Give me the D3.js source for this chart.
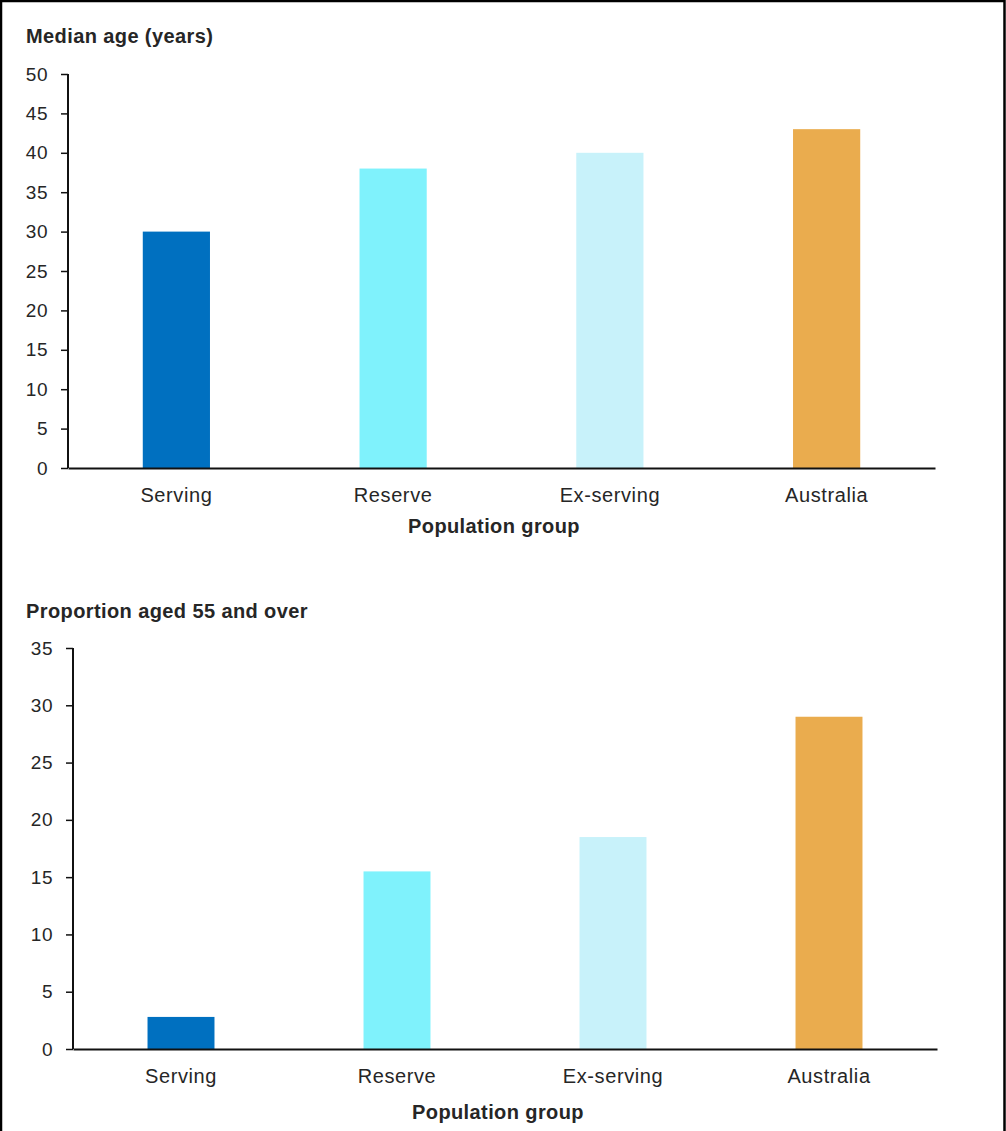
<!DOCTYPE html>
<html>
<head>
<meta charset="utf-8">
<script src="https://cdn.jsdelivr.net/npm/d3@7"></script>
<style>
  html, body { margin: 0; padding: 0; background: #fff; }
  svg { display: block; }
  text { font-family: "Liberation Sans", Arial, sans-serif; fill: #262626; }
</style>
</head>
<body>
<svg id="chart" width="1006" height="1131"></svg>
<script>
// Population groups shown on both panels
const categories = ["Serving", "Reserve", "Ex-serving", "Australia"];
const barColors = ["#0070C0", "#7FF2FC", "#C8F2FA", "#EAAC4E"];

// Panel 1: median age (years)
const medianAge = [30, 38, 40, 43];
const medianAgeTicks = [0, 5, 10, 15, 20, 25, 30, 35, 40, 45, 50];

// Panel 2: proportion aged 55 and over (%)
const aged55Plus = [2.8, 15.5, 18.5, 29.0];
const aged55Ticks = [0, 5, 10, 15, 20, 25, 30, 35];

const panels = [
  { title: "Median age (years)", values: medianAge, ticks: medianAgeTicks,
    x0: 68, x1: 935, yTop: 74, yBase: 468, titleY: 43, xTitleY: 533, xTitleX: 494 },
  { title: "Proportion aged 55 and over", values: aged55Plus, ticks: aged55Ticks,
    x0: 73, x1: 937, yTop: 648, yBase: 1049, titleY: 618, xTitleY: 1119, xTitleX: 498 }
];

const svg = d3.select("#chart");

// frame around the figure
svg.append("path")
  .attr("d", "M1,1131 V1 H1004.5 V1131")
  .attr("fill", "none")
  .attr("stroke", "#000")
  .attr("stroke-width", 2.5);

panels.forEach(p => {
  const g = svg.append("g");

  const x = d3.scaleBand()
    .domain(categories)
    .range([p.x0, p.x1])
    .paddingInner(0.69)
    .paddingOuter(0.345);

  const y = d3.scaleLinear()
    .domain([0, d3.max(p.ticks)])
    .range([p.yBase, p.yTop]);

  // bars
  g.selectAll("rect.bar")
    .data(categories.map((c, i) => ({ c, v: p.values[i], color: barColors[i] })))
    .join("rect")
    .attr("class", "bar")
    .attr("x", d => x(d.c))
    .attr("width", x.bandwidth())
    .attr("y", d => y(d.v))
    .attr("height", d => y(0) - y(d.v))
    .attr("fill", d => d.color);

  // y axis
  const yAxis = g.append("g")
    .attr("transform", `translate(${p.x0},0)`)
    .call(d3.axisLeft(y).tickValues(p.ticks).tickSize(7).tickPadding(13).tickSizeOuter(0));
  yAxis.select(".domain").attr("stroke", "#111").attr("stroke-width", 2)
    .attr("d", `M0,${p.yTop}V${p.yBase}`);
  yAxis.selectAll(".tick line").attr("stroke", "#111").attr("stroke-width", 1.5);
  yAxis.selectAll(".tick text")
    .attr("font-size", 19)
    .attr("letter-spacing", 0.5)
    .attr("font-family", "'Liberation Sans', Arial, sans-serif")
    .attr("fill", "#262626");

  // x axis
  const xAxis = g.append("g")
    .attr("transform", `translate(0,${p.yBase})`)
    .call(d3.axisBottom(x).tickSize(0).tickSizeOuter(0));
  xAxis.select(".domain").attr("stroke", "#111").attr("stroke-width", 2);
  xAxis.selectAll(".tick text")
    .attr("dy", null)
    .attr("y", 33.5)
    .attr("font-size", 20)
    .attr("letter-spacing", 0.6)
    .attr("font-family", "'Liberation Sans', Arial, sans-serif")
    .attr("fill", "#262626");

  // panel title
  g.append("text")
    .attr("x", 26)
    .attr("y", p.titleY)
    .attr("font-size", 20)
    .attr("letter-spacing", 0.4)
    .attr("font-weight", "bold")
    .text(p.title);

  // x axis title
  g.append("text")
    .attr("x", p.xTitleX)
    .attr("y", p.xTitleY)
    .attr("text-anchor", "middle")
    .attr("font-size", 20)
    .attr("letter-spacing", 0.4)
    .attr("font-weight", "bold")
    .text("Population group");
});
</script>
</body>
</html>
